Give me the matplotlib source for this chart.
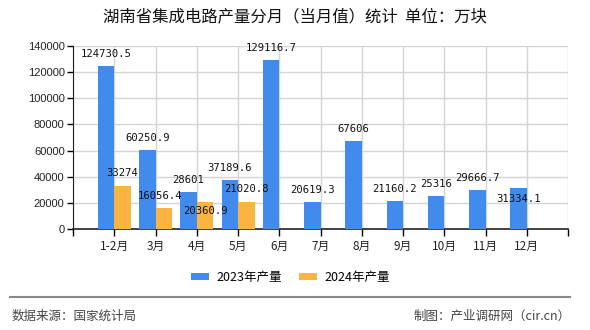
import numpy as np
import matplotlib
matplotlib.use("Agg")
import matplotlib.pyplot as plt
from matplotlib.lines import Line2D

plt.rcParams['font.family'] = ['Noto Sans CJK SC', 'DejaVu Sans']

months = ['1-2月', '3月', '4月', '5月', '6月', '7月', '8月', '9月', '10月', '11月', '12月']
prod_2023 = [124730.5, 60250.9, 28601, 37189.6, 129116.7, 20619.3, 67606, 21160.2, 25316, 29666.7, 31334.1]
prod_2024 = [33274, 16056.4, 20360.9, 21020.8, None, None, None, None, None, None, None]
yticks = [0, 20000, 40000, 60000, 80000, 100000, 120000, 140000]

blue = '#418BEC'
orange = '#FBB441'

# labels the chart pushes down into the bar instead of above it
below_2023 = [10]
below_2024 = [2]

fig = plt.figure(figsize=(5.9, 3.3), dpi=100)
ax = fig.add_axes([73/590, 1-229/330, (568-73)/590, (229-46)/330])

x = np.arange(len(months))
w = 0.4
v24 = [np.nan if v is None else v for v in prod_2024]
ax.bar(x - w/2, prod_2023, w, color=blue, label='2023年产量', zorder=3)
ax.bar(x + w/2, v24, w, color=orange, label='2024年产量', zorder=3)

lab_font = dict(family=['DejaVu Sans Mono', 'Noto Sans CJK SC'], fontsize=7.6, color='#111111')
for i, v in enumerate(prod_2023):
    dy = -8 if i in below_2023 else 8.6
    ax.annotate(str(v), (x[i] - w/2, v), xytext=(0, dy), textcoords='offset points',
                ha='center', va='center', zorder=5, **lab_font)
for i, v in enumerate(prod_2024):
    if v is None:
        continue
    dy = -6.5 if i in below_2024 else 8.8
    dx = -3 if i == 1 else 0
    ax.annotate(str(v), (x[i] + w/2, v), xytext=(dx, dy), textcoords='offset points',
                ha='center', va='center', zorder=5, **lab_font)

ax.set_xlim(-1, 11)
ax.set_ylim(0, 140000)
ax.set_xticks(np.arange(-1, 12))
ax.set_xticklabels([''] + months + [''], fontsize=8.5, color='#222222')
ax.set_yticks(yticks)
ax.set_yticklabels([str(t) for t in yticks], family=['Liberation Sans', 'DejaVu Sans'], fontsize=8, color='#222222')
ax.grid(True, color='#d4d4d4', linewidth=1, zorder=0)
ax.tick_params(axis='x', length=5, width=1, pad=3)
ax.tick_params(axis='y', length=4, width=1, pad=2)
for s in ['top', 'right']:
    ax.spines[s].set_visible(False)
ax.spines['left'].set_color('#222222')
ax.spines['bottom'].set_color('#222222')
ax.spines['bottom'].set_linewidth(1.2)

fig.text(295/590, 1-17/330, '湖南省集成电路产量分月（当月值）统计  单位：万块',
         ha='center', va='center', fontsize=11.8, fontweight='medium', color='#111111')

fig.legend(loc='center', bbox_to_anchor=(290.5/590, 1-277.5/330), ncol=2, frameon=False,
           fontsize=9, handlelength=1.45, handleheight=0.56, handletextpad=0.6, columnspacing=1.3)

fig.add_artist(Line2D([10/590, 570/590], [1-297/330, 1-297/330], color='#888888', linewidth=1.5))
fig.text(12/590, 1-316/330, '数据来源：国家统计局', ha='left', va='center', fontsize=9, color='#444444')
fig.text(571/590, 1-316/330, '制图：产业调研网（cir.cn）', ha='right', va='center', fontsize=9, color='#444444')

fig.savefig('out.png', dpi=100)
